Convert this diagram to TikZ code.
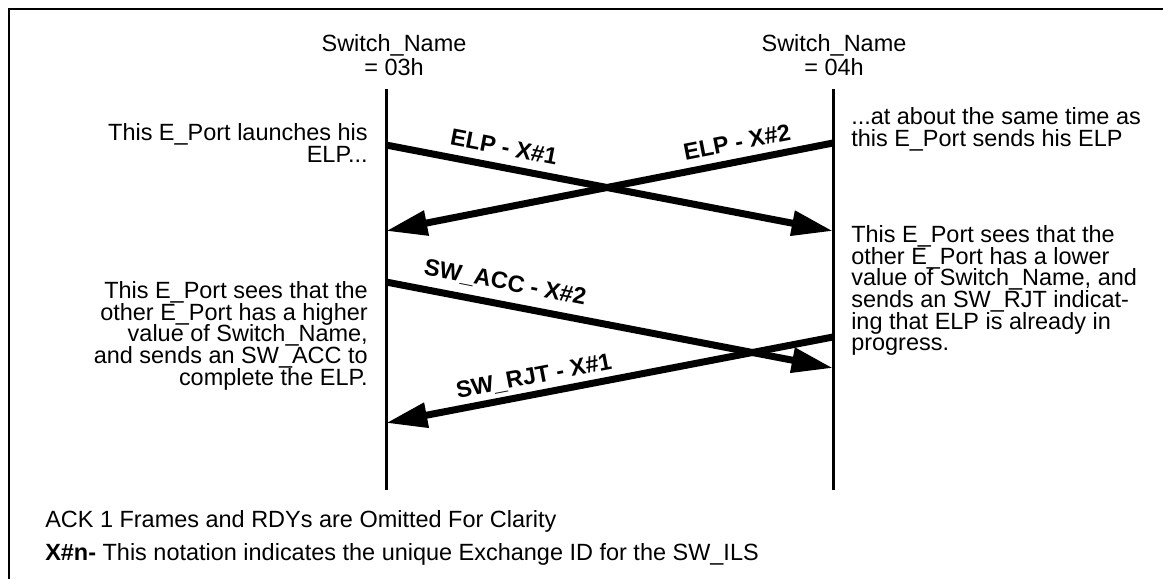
\documentclass[tikz,border=0pt]{standalone}
\usepackage{fontspec}
\setmainfont{Liberation Sans}
\usetikzlibrary{arrows.meta}

\tikzset{
  msg/.style={line width=5.25pt, -{Triangle[length=31pt,width=18pt]}},
  lifeline/.style={line width=2.25pt},
  lbl/.style={font=\fontsize{17.6pt}{16.3pt}\selectfont\bfseries, inner sep=0pt},
  note/.style={inner sep=0pt},
}

\begin{document}
\lineskiplimit-20pt
\begin{tikzpicture}[x=0.75pt,y=0.75pt,yscale=-1,xscale=1,
  font=\fontsize{17.6pt}{16.3pt}\selectfont]
\useasboundingbox (0,0) rectangle (1163,579);

%Shape: Frame
\draw [line width=0.9pt] (1163,9) -- (9,9) -- (9,579) ;

% Text Node
\node (sw03) [anchor=north, note, align=center, font=\fontsize{17.6pt}{18pt}\selectfont] at (394,34) {Switch\_Name\\= 03h};
% Text Node
\node (sw04) [anchor=north, note, align=center, font=\fontsize{17.6pt}{18pt}\selectfont] at (834,34) {Switch\_Name\\= 04h};

%Straight Lines
\coordinate (l03top) at (386,89);
\coordinate (l03bot) at (386,490);
\coordinate (l04top) at (833,89);
\coordinate (l04bot) at (833,490);
\draw [lifeline] (l03top) -- (l03bot) ;
\draw [lifeline] (l04top) -- (l04bot) ;

%Straight Lines
\coordinate (elp1a) at (386,145);
\coordinate (elp1b) at (833,231);
\coordinate (elp2a) at (833,143);
\coordinate (elp2b) at (386,231);
\coordinate (acca) at (386,282);
\coordinate (accb) at (833,368);
\coordinate (rjta) at (833,337);
\coordinate (rjtb) at (386,423);
\draw [msg] (elp1a) -- (elp1b) ;
\draw [msg] (elp2a) -- (elp2b) ;
\draw [msg] (acca) -- (accb) ;
\draw [msg] (rjta) -- (rjtb) ;

% Text Node
\node (elp1lbl) [lbl, rotate=-10.9] at (504,147) {ELP - X\#1};
% Text Node
\node (elp2lbl) [lbl, rotate=11.1] at (737,142) {ELP - X\#2};
% Text Node
\node (acclbl) [lbl, rotate=-10.9] at (505,283) {SW\_ACC - X\#2};
% Text Node
\node (rjtlbl) [lbl, rotate=10.9] at (534,377) {SW\_RJT - X\#1};

% Text Node
\node (launch) [anchor=north east, note, align=right] at (368,123) {This E\_Port launches his\\ELP...};
% Text Node
\node (higher) [anchor=north east, note, align=right] at (368,281) {This E\_Port sees that the\\other E\_Port has a higher\\value of Switch\_Name,\\and sends an SW\_ACC to\\complete the ELP.};
% Text Node
\node (sametime) [anchor=north west, note, align=left] at (851,107) {...at about the same time as\\this E\_Port sends his ELP};
% Text Node
\node (lower) [anchor=north west, note, align=left] at (851,225) {This E\_Port sees that the\\other E\_Port has a lower\\value of Switch\_Name, and\\sends an SW\_RJT indicat-\\ing that ELP is already in\\progress.};

% Text Node
\node (ack) [anchor=base west, note] at (45,527) {ACK 1 Frames and RDYs are Omitted For Clarity};
% Text Node
\node (xnote) [anchor=base west, note] at (45,560) {\textbf{X\#n-} This notation indicates the unique Exchange ID for the SW\_ILS};

\end{tikzpicture}
\end{document}
